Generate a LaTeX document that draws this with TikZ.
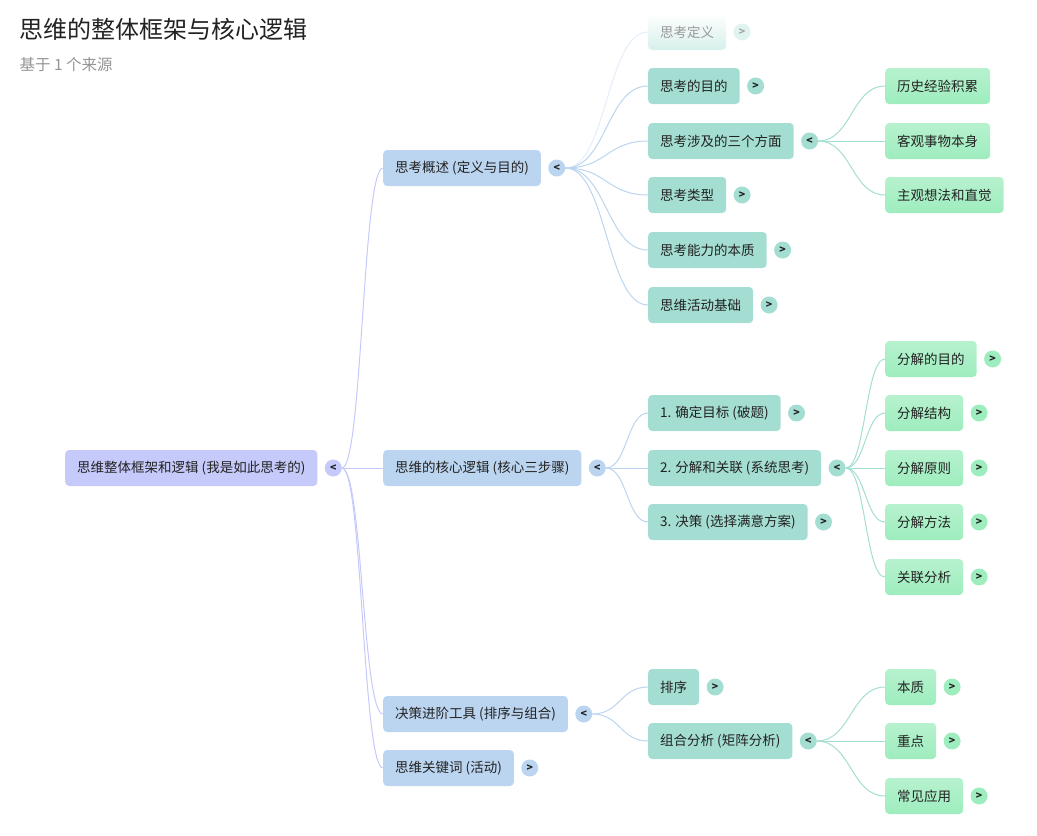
\documentclass[tikz,border=0pt]{standalone}
\usepackage{fontspec}
\setmainfont{Noto Sans CJK SC}
\usetikzlibrary{positioning,calc}

\definecolor{rootcol}{HTML}{C5CAFB}
\definecolor{onecol}{HTML}{BBD5F0}
\definecolor{twocol}{HTML}{A4DDD2}
\definecolor{threecol}{HTML}{9EEDBE}
\definecolor{inkcol}{HTML}{222222}

\begin{document}
\begin{tikzpicture}[
    x=1pt, y=-1pt,
    % boxes per level of the map
    box/.style={rounded corners=4pt, minimum height=36pt, inner xsep=12pt, inner ysep=0pt,
                anchor=west, font=\fontsize{13.5}{15}\selectfont, text=inkcol},
    rootbox/.style={box, fill=rootcol},
    onebox/.style={box, fill=onecol},
    twobox/.style={box, fill=twocol},
    threebox/.style={box, top color=threecol!75!white, bottom color=threecol},
    % small fold / unfold buttons
    tog/.style={circle, minimum size=17pt, inner sep=0pt, text=inkcol,
                font=\fontsize{10.5}{10.5}\selectfont\bfseries},
    % horizontal S links, control points half way across
    link/.style={line width=1pt, to path={let \p1=(\tikztostart), \p2=(\tikztotarget) in
                 .. controls ({0.5*\x1+0.5*\x2},\y1) and ({0.5*\x1+0.5*\x2},\y2) .. (\tikztotarget)}},
    rootlink/.style={link, rootcol},
    onelink/.style={link, onecol},
    twolink/.style={link, twocol}
]
\useasboundingbox (0,0) rectangle (1037,836);

% Heading
\node[anchor=west, font=\fontsize{24}{26}\selectfont, text=inkcol] (title) at (16,29) {思维的整体框架与核心逻辑};
\node[anchor=west, font=\fontsize{15.5}{17}\selectfont, text=black!42] (subtitle) at (16,65) {基于 1 个来源};

% Root
\node[rootbox] (root) at (65,468) {思维整体框架和逻辑 (我是如此思考的)};
\node[tog, fill=rootcol, right=7pt of root] (troot) {<};

% Level one
\node[onebox] (gaishu) at (383,168) {思考概述 (定义与目的)};
\node[tog, fill=onecol, right=7pt of gaishu] (tgaishu) {<};
\node[onebox] (luoji) at (383,468) {思维的核心逻辑 (核心三步骤)};
\node[tog, fill=onecol, right=7pt of luoji] (tluoji) {<};
\node[onebox] (gongju) at (383,714) {决策进阶工具 (排序与组合)};
\node[tog, fill=onecol, right=7pt of gongju] (tgongju) {<};
\node[onebox] (guanjian) at (383,768) {思维关键词 (活动)};
\node[tog, fill=onecol, right=7pt of guanjian] (tguanjian) {>};

% Level two: overview
\node[box, top color=white, bottom color=twocol!45, text=black!40] (dingyi) at (648,32) {思考定义};
\node[tog, fill=twocol!35, text=black!35, right=7pt of dingyi] (tdingyi) {>};
\node[twobox] (mudi) at (648,86) {思考的目的};
\node[tog, fill=twocol, right=7pt of mudi] (tmudi) {>};
\node[twobox] (fangmian) at (648,141) {思考涉及的三个方面};
\node[tog, fill=twocol, right=7pt of fangmian] (tfangmian) {<};
\node[twobox] (leixing) at (648,195) {思考类型};
\node[tog, fill=twocol, right=7pt of leixing] (tleixing) {>};
\node[twobox] (benzhi) at (648,250) {思考能力的本质};
\node[tog, fill=twocol, right=7pt of benzhi] (tbenzhi) {>};
\node[twobox] (jichu) at (648,305) {思维活动基础};
\node[tog, fill=twocol, right=7pt of jichu] (tjichu) {>};

% Level two: three steps
\node[twobox] (mubiao) at (648,413) {1. 确定目标 (破题)};
\node[tog, fill=twocol, right=7pt of mubiao] (tmubiao) {>};
\node[twobox] (fenjie) at (648,468) {2. 分解和关联 (系统思考)};
\node[tog, fill=twocol, right=7pt of fenjie] (tfenjie) {<};
\node[twobox] (juece) at (648,522) {3. 决策 (选择满意方案)};
\node[tog, fill=twocol, right=7pt of juece] (tjuece) {>};

% Level two: tools
\node[twobox] (paixu) at (648,687) {排序};
\node[tog, fill=twocol, right=7pt of paixu] (tpaixu) {>};
\node[twobox] (zuhe) at (648,741) {组合分析 (矩阵分析)};
\node[tog, fill=twocol, right=7pt of zuhe] (tzuhe) {<};

% Level three
\node[threebox] (lishi) at (885,86) {历史经验积累};
\node[threebox] (keguan) at (885,141) {客观事物本身};
\node[threebox] (zhuguan) at (885,195) {主观想法和直觉};

\node[threebox] (fjmudi) at (885,359) {分解的目的};
\node[tog, fill=threecol, right=7pt of fjmudi] (tfjmudi) {>};
\node[threebox] (fjjiegou) at (885,413) {分解结构};
\node[tog, fill=threecol, right=7pt of fjjiegou] (tfjjiegou) {>};
\node[threebox] (fjyuanze) at (885,468) {分解原则};
\node[tog, fill=threecol, right=7pt of fjyuanze] (tfjyuanze) {>};
\node[threebox] (fjfangfa) at (885,522) {分解方法};
\node[tog, fill=threecol, right=7pt of fjfangfa] (tfjfangfa) {>};
\node[threebox] (glfenxi) at (885,577) {关联分析};
\node[tog, fill=threecol, right=7pt of glfenxi] (tglfenxi) {>};

\node[threebox] (zhbenzhi) at (885,687) {本质};
\node[tog, fill=threecol, right=7pt of zhbenzhi] (tzhbenzhi) {>};
\node[threebox] (zhongdian) at (885,741) {重点};
\node[tog, fill=threecol, right=7pt of zhongdian] (tzhongdian) {>};
\node[threebox] (yingyong) at (885,796) {常见应用};
\node[tog, fill=threecol, right=7pt of yingyong] (tyingyong) {>};

% Links
\foreach \c in {gaishu, luoji, gongju, guanjian}
  \draw[rootlink] (troot.east) to (\c.west);

\draw[onelink, opacity=0.4] (tgaishu.east) to (dingyi.west);
\foreach \c in {mudi, fangmian, leixing, benzhi, jichu}
  \draw[onelink] (tgaishu.east) to (\c.west);
\foreach \c in {mubiao, fenjie, juece}
  \draw[onelink] (tluoji.east) to (\c.west);
\foreach \c in {paixu, zuhe}
  \draw[onelink] (tgongju.east) to (\c.west);

\foreach \c in {lishi, keguan, zhuguan}
  \draw[twolink] (tfangmian.east) to (\c.west);
\foreach \c in {fjmudi, fjjiegou, fjyuanze, fjfangfa, glfenxi}
  \draw[twolink] (tfenjie.east) to (\c.west);
\foreach \c in {zhbenzhi, zhongdian, yingyong}
  \draw[twolink] (tzuhe.east) to (\c.west);

\end{tikzpicture}
\end{document}
